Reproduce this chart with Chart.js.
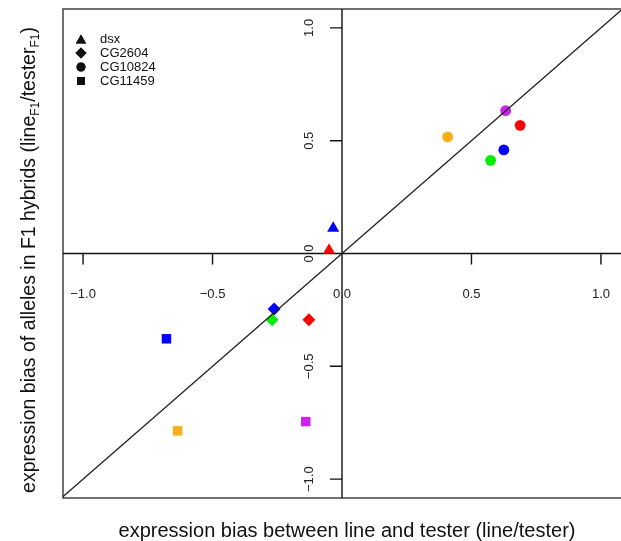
<!DOCTYPE html>
<html>
<head>
<meta charset="utf-8">
<script src="https://cdn.jsdelivr.net/npm/chart.js@4.4.1/dist/chart.umd.min.js"></script>
<style>
  html, body { margin: 0; padding: 0; background: #fff; overflow: hidden; }
  canvas { display: block; }
</style>
</head>
<body>
<canvas id="myChart" width="621" height="541"></canvas>
<script>
// gene names (legend order) and point styles
var genes = ['dsx', 'CG2604', 'CG10824', 'CG11459'];
var shapes = ['triangle', 'rectRot', 'circle', 'rect'];

// values
var dsxX = [-0.034, -0.050];
var dsxY = [0.112, 0.014];
var dsxCol = ['#0000FF', '#FF0000'];

var cg2604X = [-0.262, -0.270, -0.128];
var cg2604Y = [-0.246, -0.294, -0.294];
var cg2604Col = ['#0000FF', '#00EE00', '#FF0000'];

var cg10824X = [0.632, 0.688, 0.408, 0.625, 0.574];
var cg10824Y = [0.633, 0.568, 0.517, 0.459, 0.413];
var cg10824Col = ['#CC22EE', '#FF0000', '#FBAE17', '#0000FF', '#00EE00'];

var cg11459X = [-0.678, -0.635, -0.140];
var cg11459Y = [-0.378, -0.786, -0.745];
var cg11459Col = ['#0000FF', '#FBAE17', '#CC22EE'];

// y = x reference line
var diagX = [-1.2, 1.2];
var diagY = [-1.2, 1.2];

// axis ticks
var xTicks = [-1.0, -0.5, 0.0, 0.5, 1.0];
var xTickLabels = ['\u22121.0', '\u22120.5', '0.0', '0.5', '1.0'];
var yTicks = [-1.0, -0.5, 0.0, 0.5, 1.0];
var yTickLabels = ['\u22121.0', '\u22120.5', '0.0', '0.5', '1.0'];

function pts(xs, ys) {
    return xs.map(function (x, i) { return { x: x, y: ys[i] }; });
}

var FONT = '"Liberation Sans", Arial, Helvetica, sans-serif';

var framePlugin = {
    id: 'frame',
    beforeDatasetsDraw: function (chart) {
        var ctx = chart.ctx, a = chart.chartArea;
        var xs = chart.scales.x, ys = chart.scales.y;
        var x0 = xs.getPixelForValue(0), y0 = ys.getPixelForValue(0);
        ctx.save();
        // box
        ctx.strokeStyle = '#444';
        ctx.lineWidth = 1.5;
        ctx.beginPath();
        ctx.moveTo(a.right + 1, a.top);
        ctx.lineTo(a.left, a.top);
        ctx.lineTo(a.left, a.bottom);
        ctx.lineTo(a.right + 1, a.bottom);
        ctx.stroke();
        // axes through origin
        ctx.strokeStyle = '#111';
        ctx.lineWidth = 1.4;
        ctx.beginPath();
        ctx.moveTo(a.left, y0); ctx.lineTo(a.right, y0);
        ctx.moveTo(x0, a.top); ctx.lineTo(x0, a.bottom);
        // ticks
        xTicks.forEach(function (v) {
            var px = xs.getPixelForValue(v);
            ctx.moveTo(px, y0); ctx.lineTo(px, y0 + 11);
        });
        yTicks.forEach(function (v) {
            var py = ys.getPixelForValue(v);
            ctx.moveTo(x0, py); ctx.lineTo(x0 - 12, py);
        });
        ctx.stroke();
        ctx.restore();
    },
    afterDatasetsDraw: function (chart) {
        var ctx = chart.ctx, a = chart.chartArea;
        var xs = chart.scales.x, ys = chart.scales.y;
        var x0 = xs.getPixelForValue(0), y0 = ys.getPixelForValue(0);
        ctx.save();
        ctx.fillStyle = '#222';
        ctx.font = '13px ' + FONT;
        ctx.textAlign = 'center';
        ctx.textBaseline = 'middle';
        xTicks.forEach(function (v, i) {
            ctx.fillText(xTickLabels[i], xs.getPixelForValue(v), y0 + 41);
        });
        yTicks.forEach(function (v, i) {
            ctx.save();
            ctx.translate(x0 - 33, ys.getPixelForValue(v));
            ctx.rotate(-Math.PI / 2);
            ctx.fillText(yTickLabels[i], 0, 0);
            ctx.restore();
        });

        // legend
        ctx.textAlign = 'left';
        ctx.font = '13px ' + FONT;
        for (var i = 0; i < genes.length; i++) {
            var ly = 39 + i * 14;
            Chart.helpers.drawPoint(ctx, {
                pointStyle: shapes[i], radius: [6, 5.5, 4.5, 5.6][i],
                borderWidth: 0, rotation: 0
            }, 81, ly + (i === 0 ? 1.5 : 0));
            ctx.fillStyle = '#111';
            ctx.fill();
            ctx.fillText(genes[i], 100, ly);
        }

        // x title
        ctx.fillStyle = '#111';
        ctx.font = '20px ' + FONT;
        ctx.textAlign = 'center';
        ctx.fillText('expression bias between line and tester (line/tester)', 347, 531);

        // y title with subscripts
        ctx.save();
        ctx.translate(30, 260);
        ctx.rotate(-Math.PI / 2);
        var parts = [
            ['expression bias of alleles in F1 hybrids (line', 19.5, 0],
            ['F1', 12, 6],
            ['/tester', 19.5, 0],
            ['F1', 12, 6],
            [')', 19.5, 0]
        ];
        var total = 0;
        parts.forEach(function (p) {
            ctx.font = p[1] + 'px ' + FONT;
            total += ctx.measureText(p[0]).width;
        });
        var cx = -total / 2;
        ctx.textAlign = 'left';
        parts.forEach(function (p) {
            ctx.font = p[1] + 'px ' + FONT;
            ctx.fillText(p[0], cx, p[2]);
            cx += ctx.measureText(p[0]).width;
        });
        ctx.restore();
        ctx.restore();
    }
};

function scatterSet(label, xs, ys, cols, style, r) {
    return {
        type: 'scatter',
        label: label,
        data: pts(xs, ys),
        pointStyle: style,
        pointRadius: r,
        pointHoverRadius: r,
        backgroundColor: cols,
        borderColor: cols,
        borderWidth: 0
    };
}

var ctx = document.getElementById('myChart').getContext('2d');
var chart = new Chart(ctx, {
    type: 'scatter',
    data: {
        datasets: [
            {
                type: 'line',
                label: 'y = x',
                data: pts(diagX, diagY),
                borderColor: '#222',
                borderWidth: 1.4,
                pointRadius: 0,
                fill: false,
                clip: 0
            },
            scatterSet(genes[0], dsxX, dsxY, dsxCol, shapes[0], 7),
            scatterSet(genes[1], cg2604X, cg2604Y, cg2604Col, shapes[1], 6.5),
            scatterSet(genes[2], cg10824X, cg10824Y, cg10824Col, shapes[2], 5.4),
            scatterSet(genes[3], cg11459X, cg11459Y, cg11459Col, shapes[3], 6.7)
        ]
    },
    options: {
        responsive: false,
        animation: false,
        layout: { autoPadding: false, padding: { left: 63, top: 9, right: 0, bottom: 43 } },
        plugins: { legend: { display: false }, tooltip: { enabled: false } },
        scales: {
            x: { type: 'linear', min: -1.0775, max: 1.0775, display: false },
            y: { type: 'linear', min: -1.0836, max: 1.0836, display: false }
        }
    },
    plugins: [framePlugin]
});
</script>
</body>
</html>
